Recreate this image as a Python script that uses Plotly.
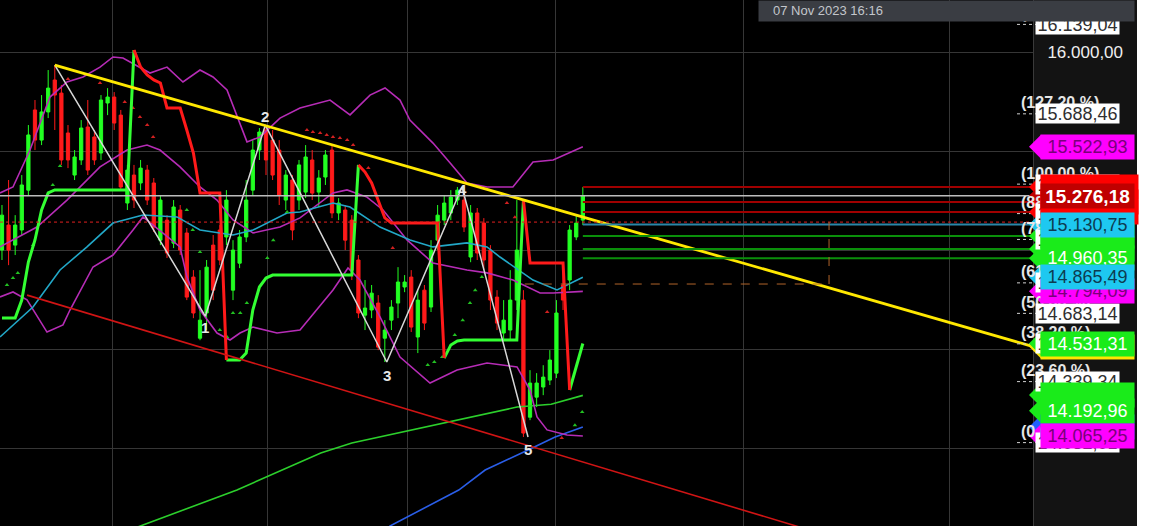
import plotly.graph_objects as go

# ---------------- candle data (index = candle number) ----------------
opens = [15002,15128,15027,15103,15304,15708,15556,15698,15859,15793,
         15592,15380,15456,15622,15572,15491,15743,15773,15682,15239,
         15380,15340,15405,15340,15052,15153,15037,15204,15088,14866,
         14558,14685,15027,15103,15068,14800,14936,15068,15304,15506,
         15607,15556,15506,15254,15355,15254,15294,15456,15294,15370,
         15506,15189,15204,15153,14952,14674,14700,14735,14558,14649,
         14735,14816,14866,14564,14800,14715,15052,15153,15189,15254,
         15254,14967,15189,15138,15002,14765,14584,14599,14750,14750,
         14160,14261,14312,14347,14382,14826,14851,15068,15153]
highs = [15229,15355,15178,15380,15632,15758,15783,15909,15934,15834,
         15632,15506,15657,15758,15607,15783,15818,15798,15708,15431,
         15431,15456,15431,15365,15279,15178,15254,15229,15113,14901,
         14901,14952,15078,15128,15304,15052,15103,15355,15556,15617,
         15632,15607,15556,15405,15380,15456,15531,15506,15405,15506,
         15531,15264,15229,15178,14977,14851,14826,14775,14649,14750,
         14916,14876,14901,14800,14826,15052,15229,15279,15304,15320,
         15304,15229,15214,15163,15027,14800,14750,14901,15254,14800,
         14397,14382,14422,14498,14750,14891,15128,15178,15320]
lows = [14952,14926,14977,15078,15279,15506,15531,15667,15607,15431,
        15415,15355,15431,15380,15431,15456,15682,15607,15304,15204,
        15214,15304,15229,15093,15027,14962,15012,14977,14750,14659,
        14548,14599,14750,14926,15027,14750,14911,15042,15279,15456,
        15380,15355,15229,15204,15052,15204,15264,15254,15219,15330,
        15163,15153,15002,14851,14659,14599,14659,14498,14438,14599,
        14659,14790,14589,14483,14599,14690,15002,15128,15153,15229,
        15093,14941,14952,14901,14700,14599,14548,14548,14700,14060,
        14145,14211,14271,14322,14357,14700,14800,15052,15128]
closes = [15178,15002,15128,15330,15582,15556,15698,15818,15783,15456,
          15456,15471,15617,15405,15456,15758,15773,15642,15320,15405,
          15254,15415,15254,15118,15254,14987,15219,15002,14765,14685,
          14649,14916,14800,14952,15254,15002,15068,15254,15506,15597,
          15456,15380,15279,15380,15103,15431,15471,15289,15365,15481,
          15189,15239,15052,14901,14685,14710,14785,14513,14599,14715,
          14841,14841,14614,14750,14634,15002,15178,15239,15269,15304,
          15118,15189,14987,14952,14750,14634,14649,14750,15002,14080,
          14332,14332,14362,14448,14685,14750,15103,15138,15276.18]
candle_idx = list(range(len(opens)))

# ---------------- supertrend (per candle) ----------------
st_values = [14660,14660,14660,14750,14942,15053,15204,15290,15305,15305,
             15305,15305,15305,15305,15305,15305,15305,15305,15305,15305,
             16010,15924,15884,15859,15844,15718,15718,15718,15607,15491,
             15290,15290,15290,15290,14448,14448,14448,14483,14700,14816,
             14861,14876,14876,14876,14876,14876,14876,14876,14876,14876,
             14876,14876,14876,14876,15431,15395,15340,15254,15164,15138,
             15138,15138,15138,15138,15138,15138,15138,14458,14524,14544,
             14549,14549,14549,14549,14549,14549,14549,14549,14549,15254,
             14937,14937,14937,14937,14937,14937,14297,14413,14531.31]
st_dir = ['g','g','g','g','g','g','g','g','g','g',
          'g','g','g','g','g','g','g','g','g','g',
          'r','r','r','r','r','r','r','r','r','r',
          'r','r','r','r','g','g','g','g','g','g',
          'g','g','g','g','g','g','g','g','g','g',
          'g','g','g','g','r','r','r','r','r','r',
          'r','r','r','r','r','r','r','g','g','g',
          'g','g','g','g','g','g','g','g','g','r',
          'r','r','r','r','r','r','g','g','g']

# ---------------- bands / averages (x in candle index) ----------------
bb_up_x = [-0.3,1.67,4.24,7.27,9.85,12.27,14.85,16.82,18.33,20.91,22.42,25.0,27.42,30.0,31.97,34.09,
           37.12,39.09,42.12,45.15,49.7,52.73,55.76,58.03,60.3,61.8,65.3,67.9,70.45,73.5,77.4,80.45,83.5,88]
bb_up_y = [15290,15320,15506,15773,15849,15874,15924,15975,15970,15924,15894,15924,15849,15909,15874,15809,
           15547,15572,15667,15718,15758,15683,15783,15819,15758,15657,15541,15441,15340,15320,15320,15446,15456,15522.93]
bb_mid_x = [-0.3,5.3,9.85,14.85,18.94,21.97,23.94,26.97,30.0,32.58,35.0,38.03,42.12,45.15,50.15,52.27,
            55.3,57.73,61.36,65.3,70.45,73.48,77.42,81.52,83.5,88]
bb_mid_y = [15018,15118,15254,15421,15506,15531,15506,15421,15320,15254,15154,15088,15118,15164,15290,15305,
            15269,15204,15053,14937,14902,14887,14851,14786,14786,14794.09]
bb_low_x = [-0.3,1.67,3.79,6.82,9.24,10.3,13.79,16.82,19.85,21.36,26.97,28.03,30.0,32.58,34.55,36.06,38.03,
            41.67,45.15,50.15,52.42,54.24,57.27,60.3,64.85,68.94,73.48,75.45,78.03,80.0,81.06,82.58,85.6,88]
bb_low_y = [14766,14791,14751,14589,14625,14700,14917,14977,15103,15169,15018,14866,14700,14584,14549,14584,14614,
            14584,14599,14801,14912,14851,14665,14463,14332,14398,14433,14423,14413,14297,14161,14096,14070,14065.25]
ma_cyan_x = [-0.3,4.7,8.79,12.88,16.82,21.36,26.52,30.0,35.0,38.03,43.18,45.15,50.15,52.73,57.27,61.82,
             65.3,70.45,73.48,75.45,80.45,84.09,88]
ma_cyan_y = [14564,14715,14902,15018,15138,15179,15169,15103,15078,15103,15189,15194,15239,15219,15118,15053,
             15018,15038,15018,14967,14851,14801,14865.49]
ma_green_x = [19.4,21.36,35.6,48.3,53.0,66.97,78.03,83.2,88]
ma_green_y = [13592,13617,13793,13980,14030,14131,14211,14225,14270]
ma_blue_x = [58.0,58.8,69.2,73.2,79.7,83.8,88]
ma_blue_y = [13592,13612,13793,13894,13995,14060,14111]

# ---------------- drawings ----------------
zigzag_x = [8, 30.8, 39.9, 58.3, 69.7, 79.7]
zigzag_y = [15934, 14669, 15632, 14438, 15320, 14060]
wave_labels = ['', '1', '2', '3', '4', '5']
wave_offsets = [0, -57, 45, -70, -12, -65]
yellow_x = [8, 156.2]
yellow_y = [15934, 14516]
redtl_x = [3.8, 136]
redtl_y = [14775, 13455]

sar_red_x = [10.0,14.85,18.6,19.85,20.9,22.0,22.9,46.2,47.1,48.2,49.2,50.15,51.2,52.3,53.2,55.5,59.2,76.5,77.7,82.6,84.8]
sar_red_y = [15864,15844,15748,15718,15672,15632,15572,15607,15597,15592,15582,15572,15567,15556,15531,15415,15012,15239,15168,14690,14055]
sar_green_x = [0.76,1.67,2.4,4.7,7.7,8.8,28.0,28.9,30.0,33.0,34.1,35.0,36.1,37.1,40.2,41.1,43.2,64.5,65.5,66.7,68.6,69.8,70.9,71.7,72.7,86.8,87.9]
sar_green_y = [14826,14861,14886,15027,15330,15425,15204,15103,14992,14599,14564,14685,14685,14735,14962,15052,15194,14423,14438,14463,14574,14649,14735,14800,14866,14120,14186]

last_price = 15276.18
red_dotted_level = 15143
level_start = 88
red_levels = [15320, 15244, 15194]
cyan_level = 15130.75
green_levels = [15073, 15008, 14960.35]
orange_level = 14831
orange_x = [79.2, 125.3]

grid_x = [16.8, 40.3, 61.5, 83.8, 112.3, 143.6]
y_ticks = [14000, 14500, 15000, 15500, 16000]
y_ticktext = ['', '', '', '', '16.000,00']

fib_values = [14032.01, 14339.34, 14529.47, 14683.14, 14836.79, 15055.57, 15185.79, 15334.25, 15688.46, 16139.04]
fib_texts = ['14.032,01', '14.339,34', '14.529,47', '14.683,14', '14.836,79', '15.055,57', '15.185,79', '15.334,25', '15.688,46', '16.139,04']
fib_pct = ['(0,00 %)', '(23,60 %)', '(38,20 %)', '(50,00 %)', '(61,80 %)', '(78,60 %)', '(88,60 %)', '(100,00 %)', '(127,20 %)', '(161,80 %)']

# right-axis value tags (drawn in this order)
tag_values = [15320, 15244, 15194, 14516, 15073, 15008, 14960.35, 14111, 14272, 14192.96, 14065.25,
              14531.31, 14794.09, 14865.49, 15276.18, 15130.75, 15522.93]
tag_texts = ['', '', '', '', '', '', '14.960,35', '',
             '', '14.192,96', '14.065,25', '14.531,31', '14.794,09', '14.865,49', '15.276,18', '15.130,75', '15.522,93']
tag_bg = ['#ff0000', '#ff0000', '#ff0000', '#ffe600', '#1aeb1a', '#1aeb1a', '#1aeb1a', '#2060ff',
          '#1aeb1a', '#1aeb1a', '#ff00ff', '#1aeb1a', '#ff00ff', '#1ec8f0', '#c00000', '#1ec8f0', '#ff00ff']
tag_fg = ['#ffffff', '#ffffff', '#ffffff', '#333333', '#ffffff', '#ffffff', '#ffffff', '#ffffff',
          '#ffffff', '#ffffff', '#7a007a', '#ffffff', '#7a007a', '#0d3c50', '#ffffff', '#0d3c50', '#7a007a']
tag_bold = [False]*14 + [True, False, False]
tag_width = [97, 97, 97, 93, 93, 93, 93, 93, 93, 93, 93, 93, 93, 93, 93, 93, 93]

FONT = 'Liberation Sans, Arial, sans-serif'
PW = 1033.0           # plot width in px
PX_PER_PRICE = 0.19847
Y0, Y1 = 13611.8, 16262.0
X0, X1 = -0.3, 156.2
TAG_H = 24

fig = go.Figure()

def line(x, y, color, width, dash=None):
    fig.add_trace(go.Scatter(x=x, y=y, mode='lines', line=dict(color=color, width=width, dash=dash),
                             hoverinfo='skip', showlegend=False))

line(ma_green_x, ma_green_y, '#2ccf2c', 1.6)
line(ma_blue_x, ma_blue_y, '#2a5ee8', 1.6)
line(bb_up_x, bb_up_y, '#b62cb6', 1.6)
line(bb_mid_x, bb_mid_y, '#b62cb6', 1.6)
line(bb_low_x, bb_low_y, '#b62cb6', 1.6)
line(ma_cyan_x, ma_cyan_y, '#22a8c8', 1.6)

fig.add_trace(go.Candlestick(
    x=candle_idx, open=opens, high=highs, low=lows, close=closes,
    increasing=dict(line=dict(color='#22ff22', width=1), fillcolor='#22ff22'),
    decreasing=dict(line=dict(color='#ff1a1a', width=1), fillcolor='#ff1a1a'),
    whiskerwidth=0, hoverinfo='skip', showlegend=False))

fig.add_trace(go.Scatter(x=sar_red_x, y=sar_red_y, mode='markers',
                         marker=dict(symbol='triangle-up', size=4, color='#d02020'), hoverinfo='skip', showlegend=False))
fig.add_trace(go.Scatter(x=sar_green_x, y=sar_green_y, mode='markers',
                         marker=dict(symbol='triangle-up', size=4, color='#22c022'), hoverinfo='skip', showlegend=False))

# supertrend: segment i-1 -> i drawn in colour of candle i-1
for c, col in (('g', '#33ff33'), ('r', '#ff1a1a')):
    ys = []
    for i, v in enumerate(st_values):
        if st_dir[i] == c or (i > 0 and st_dir[i - 1] == c):
            ys.append(v)
        else:
            ys.append(None)
    fig.add_trace(go.Scatter(x=candle_idx, y=ys, mode='lines', line=dict(color=col, width=3),
                             connectgaps=False, hoverinfo='skip', showlegend=False))

line(redtl_x, redtl_y, '#d01414', 1.6)
line(zigzag_x, zigzag_y, '#d8d8d8', 1.5)
line(yellow_x, yellow_y, '#ffe800', 2.8)

for zx, zy, zt, zo in zip(zigzag_x, zigzag_y, wave_labels, wave_offsets):
    if zt:
        fig.add_annotation(x=zx, y=zy + zo, text='<b>' + zt + '</b>', showarrow=False,
                           font=dict(color='#e6e6e6', size=15, family=FONT))

shapes = []
shapes.append(dict(type='line', xref='x', yref='y', x0=X0, x1=X1, y0=last_price, y1=last_price,
                   line=dict(color='#bdbdbd', width=1.5)))
shapes.append(dict(type='line', xref='x', yref='y', x0=X0, x1=X1, y0=red_dotted_level, y1=red_dotted_level,
                   line=dict(color='#e02020', width=1, dash='dot')))
for lv in red_levels:
    shapes.append(dict(type='line', xref='x', yref='y', x0=level_start, x1=X1, y0=lv, y1=lv,
                       line=dict(color='#a00000', width=2)))
shapes.append(dict(type='line', xref='x', yref='y', x0=level_start, x1=X1, y0=cyan_level, y1=cyan_level,
                   line=dict(color='#2a86a8', width=2)))
for lv in green_levels:
    shapes.append(dict(type='line', xref='x', yref='y', x0=level_start, x1=X1, y0=lv, y1=lv,
                       line=dict(color='#0a8f0a', width=2)))
shapes.append(dict(type='line', xref='x', yref='y', x0=orange_x[0], x1=orange_x[1], y0=orange_level, y1=orange_level,
                   line=dict(color='#b0642a', width=1, dash='dash')))
shapes.append(dict(type='line', xref='x', yref='y', x0=orange_x[1], x1=orange_x[1], y0=orange_level, y1=red_dotted_level,
                   line=dict(color='#b0642a', width=1, dash='dash')))

shapes.append(dict(type='rect', xref='paper', yref='paper', x0=1137 / PW, x1=1160 / PW, y0=0, y1=1,
                   fillcolor='#ffffff', line=dict(width=0), layer='above'))

half = (TAG_H / 2.0) / PX_PER_PRICE
for v in fib_values:
    shapes.append(dict(type='line', xref='paper', yref='y', x0=1017 / PW, x1=1036 / PW, y0=v, y1=v,
                       line=dict(color='#d0d0d0', width=1, dash='dot'), layer='above'))
for v, bg in zip(tag_values, tag_bg):
    shapes.append(dict(type='path', xref='paper', yref='y',
                       path='M %f,%f L %f,%f L %f,%f Z' % (1029 / PW, v, 1041 / PW, v + half, 1041 / PW, v - half),
                       fillcolor=bg, line=dict(width=0), layer='above'))

for v, t in zip(fib_pct, fib_values):
    fig.add_annotation(xref='paper', yref='y', x=1019 / PW, y=t + 11 / PX_PER_PRICE, xanchor='left', yanchor='middle',
                       text='<b>' + v + '</b>', showarrow=False, font=dict(color='#e6e6e6', size=16, family=FONT))
for v, t in zip(fib_values, fib_texts):
    fig.add_annotation(xref='paper', yref='y', x=1035 / PW, y=v, xanchor='left', yanchor='middle',
                       text=t, showarrow=False, bgcolor='#ffffff', width=83, height=19, borderpad=0,
                       font=dict(color='#303030', size=18, family=FONT), align='center')
for v, t, bg, fg, b, w in zip(tag_values, tag_texts, tag_bg, tag_fg, tag_bold, tag_width):
    fig.add_annotation(xref='paper', yref='y', x=1040 / PW, y=v, xanchor='left', yanchor='middle',
                       text=(('<b>' + t + '</b>') if b else t) if t else ' ', showarrow=False, bgcolor=bg,
                       width=w, height=TAG_H, borderpad=0,
                       font=dict(color=fg, size=19 if b else 18, family=FONT), align='center')

fig.add_annotation(xref='paper', yref='paper', x=758 / PW, y=1, xanchor='left', yanchor='top', text=' ',
                   showarrow=False, bgcolor='#3a3d43', width=375, height=20, borderpad=0)
fig.add_annotation(xref='paper', yref='paper', x=771 / PW, y=1 - 10 / 526, xanchor='left', yanchor='middle',
                   text='07 Nov 2023 16:16', showarrow=False, font=dict(color='#c3c6cb', size=13, family=FONT))

fig.update_layout(
    width=1152, height=526,
    margin=dict(l=0, r=119, t=0, b=0),
    paper_bgcolor='#131313', plot_bgcolor='#000000',
    shapes=shapes, showlegend=False,
    xaxis=dict(range=[X0, X1], tickvals=grid_x, showticklabels=False, showgrid=True, gridcolor='#363636',
               gridwidth=1, zeroline=False, rangeslider=dict(visible=False), fixedrange=True),
    yaxis=dict(range=[Y0, Y1], side='right', tickvals=y_ticks, ticktext=y_ticktext, showgrid=True,
               gridcolor='#363636', zeroline=False, showline=True, linecolor='#3a3a3a',
               ticks='outside', ticklen=10, tickcolor='rgba(0,0,0,0)',
               tickfont=dict(color='#eeeeee', size=17, family=FONT), fixedrange=True),
)

fig.write_html('out.html', config={'displayModeBar': False},
               post_script="document.body.style.margin='0px';")
